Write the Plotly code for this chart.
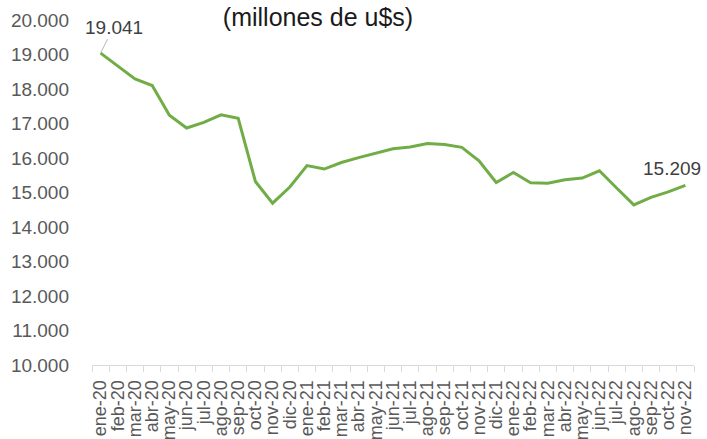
import plotly.graph_objects as go

months = ["ene-20", "feb-20", "mar-20", "abr-20", "may-20", "jun-20", "jul-20", "ago-20",
          "sep-20", "oct-20", "nov-20", "dic-20", "ene-21", "feb-21", "mar-21", "abr-21",
          "may-21", "jun-21", "jul-21", "ago-21", "sep-21", "oct-21", "nov-21", "dic-21",
          "ene-22", "feb-22", "mar-22", "abr-22", "may-22", "jun-22", "jul-22", "ago-22",
          "sep-22", "oct-22", "nov-22"]
values = [19041, 18660, 18290, 18100, 17240, 16870, 17030, 17250,
          17150, 15320, 14690, 15160, 15780, 15680, 15870, 16010,
          16130, 16270, 16320, 16420, 16390, 16310, 15920, 15290,
          15580, 15280, 15270, 15370, 15420, 15630, 15130, 14640,
          14860, 15020, 15209]
y_ticks = [10000, 11000, 12000, 13000, 14000, 15000, 16000, 17000, 18000, 19000, 20000]
title_text = "(millones de u$s)"

FONT = "Liberation Sans"

fig = go.Figure()
fig.add_trace(go.Scatter(
    x=months, y=values, mode="lines",
    line=dict(color="#70ad47", width=3),
    hoverinfo="skip", showlegend=False,
))

fig.add_annotation(
    x=months[0], y=values[0], text=f"{values[0]:,}".replace(",", "."),
    showarrow=True, arrowhead=0, arrowwidth=0.8, arrowcolor="#a6a6a6",
    ax=13, ay=-26, font=dict(family=FONT, size=19, color="#404040"),
)
fig.add_annotation(
    x=months[-1], y=values[-1], text=f"{values[-1]:,}".replace(",", "."),
    showarrow=False, xshift=-13, yshift=17,
    font=dict(family=FONT, size=19, color="#404040"),
)

fig.update_layout(
    width=707, height=439,
    margin=dict(l=92, r=13, t=20, b=74),
    paper_bgcolor="white", plot_bgcolor="white",
    separators=",.",
    title=dict(text=title_text, x=318/707, y=1-17/439, xanchor="center", yanchor="middle",
               xref="container", yref="container",
               font=dict(family=FONT, size=25, color="#1a1a1a")),
    xaxis=dict(
        type="category", range=[-0.5, len(months) - 0.5], tickmode="linear", dtick=1,
        tickangle=-90, showgrid=False,
        showline=True, linecolor="#d9d9d9", linewidth=1, ticks="outside",
        tickson="boundaries", ticklen=6, tickcolor="#d9d9d9", automargin=False,
        ticklabelstandoff=7,
        tickfont=dict(family=FONT, size=18, color="#595959"), fixedrange=True,
    ),
    yaxis=dict(
        range=[10000, 20000], tickvals=y_ticks, tickformat=",d", showgrid=False,
        showline=False, zeroline=False, ticks="", automargin=False,
        ticklabelstandoff=22,
        tickfont=dict(family=FONT, size=19, color="#595959"), fixedrange=True,
    ),
)

fig.write_html("out.html", config={"displayModeBar": False},
               post_script="document.body.style.margin='0';document.body.style.overflow='hidden';")
